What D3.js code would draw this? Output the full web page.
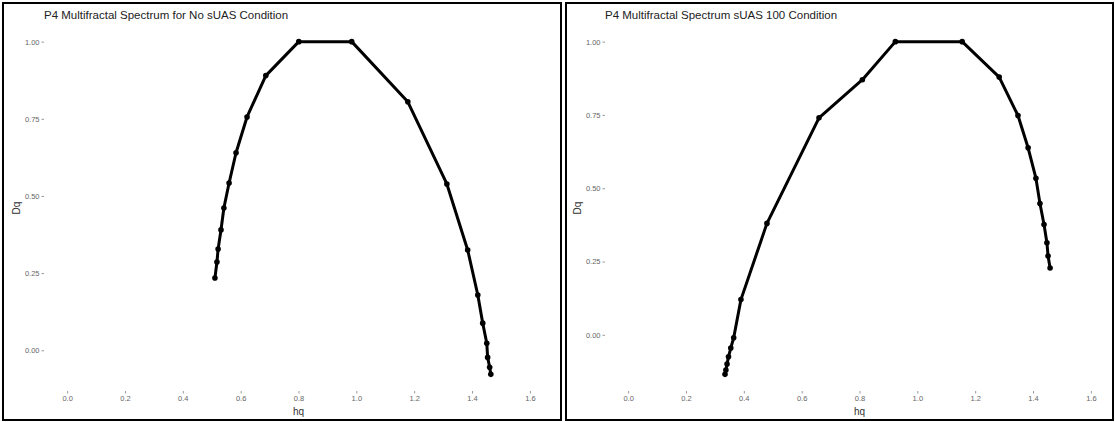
<!DOCTYPE html>
<html>
<head>
<meta charset="utf-8">
<script src="https://cdn.jsdelivr.net/npm/d3@7"></script>
<style>
  body { margin: 0; background: #fff; }
  svg text { font-family: "Liberation Sans", Arial, sans-serif; }
</style>
</head>
<body>
<div id="chart"></div>
<script>
// values

// left panel: No sUAS
const noSuasHq = [0.511, 0.518, 0.522, 0.532, 0.542, 0.560, 0.584, 0.622, 0.687, 0.801, 0.984,
                  1.178, 1.313, 1.385, 1.420, 1.437, 1.451, 1.454, 1.461, 1.465];
const noSuasDq = [0.234, 0.286, 0.328, 0.390, 0.461, 0.542, 0.640, 0.756, 0.890, 1.000, 1.000,
                  0.805, 0.539, 0.325, 0.179, 0.088, 0.023, -0.023, -0.055, -0.078];

// right panel: sUAS 100
const suas100Hq = [0.335, 0.338, 0.342, 0.347, 0.355, 0.365, 0.390, 0.480, 0.660, 0.810, 0.924,
                   1.155, 1.283, 1.348, 1.383, 1.410, 1.424, 1.438, 1.448, 1.452, 1.459];
const suas100Dq = [-0.135, -0.120, -0.100, -0.075, -0.045, -0.010, 0.120, 0.380, 0.740, 0.870, 1.000,
                   1.000, 0.879, 0.748, 0.638, 0.534, 0.448, 0.376, 0.314, 0.269, 0.228];

const xTicks = [0.0, 0.2, 0.4, 0.6, 0.8, 1.0, 1.2, 1.4, 1.6];
const yTicks = [0.00, 0.25, 0.50, 0.75, 1.00];

const panels = [
    { title: "P4 Multifractal Spectrum for No sUAS Condition", hq: noSuasHq, dq: noSuasDq,
      frame: [3, 3, 558, 417], plot: [44, 25, 553, 391] },
    { title: "P4 Multifractal Spectrum sUAS 100 Condition", hq: suas100Hq, dq: suas100Dq,
      frame: [566, 3, 547, 417], plot: [605, 25, 1114, 391] }
];

const width = 1115, height = 422;

const svg = d3.select("#chart").append("svg")
    .attr("width", width)
    .attr("height", height);

panels.forEach(p => {
    const g = svg.append("g");
    const [x0, y0, x1, y1] = p.plot;

    // ggplot-like 5% expansion
    const xSpan = 1.6 - 0;
    const x = d3.scaleLinear()
        .domain([0 - xSpan * 0.05, 1.6 + xSpan * 0.05])
        .range([x0, x1]);

    const yExt = d3.extent(p.dq);
    const ySpan = yExt[1] - yExt[0];
    const y = d3.scaleLinear()
        .domain([yExt[0] - ySpan * 0.05, yExt[1] + ySpan * 0.05])
        .range([y1, y0]);

    // x axis
    const xAxis = g.append("g")
        .attr("transform", `translate(0,${y1})`)
        .call(d3.axisBottom(x).tickValues(xTicks).tickFormat(d3.format(".1f")).tickSize(2.5).tickPadding(2));
    xAxis.select(".domain").remove();
    xAxis.selectAll("line").attr("stroke", "#999");
    xAxis.selectAll("text").attr("fill", "#666").style("font-size", "7.5px");

    // y axis
    const yAxis = g.append("g")
        .attr("transform", `translate(${x0},0)`)
        .call(d3.axisLeft(y).tickValues(yTicks).tickFormat(d3.format(".2f")).tickSize(2.5).tickPadding(2));
    yAxis.select(".domain").remove();
    yAxis.selectAll("line").attr("stroke", "#999");
    yAxis.selectAll("text").attr("fill", "#666").style("font-size", "7.5px");

    // axis titles
    g.append("text")
        .attr("x", (x0 + x1) / 2)
        .attr("y", y1 + 24)
        .attr("text-anchor", "middle")
        .style("font-size", "10px")
        .attr("fill", "#333")
        .text("hq");

    g.append("text")
        .attr("transform", `translate(${x0 - 24},${(y0 + y1) / 2}) rotate(-90)`)
        .attr("text-anchor", "middle")
        .style("font-size", "10px")
        .attr("fill", "#333")
        .text("Dq");

    // title
    g.append("text")
        .attr("x", x0)
        .attr("y", 19)
        .style("font-size", "11.5px")
        .attr("fill", "#222")
        .text(p.title);

    // spectrum line + points
    const pts = p.hq.map((h, i) => [h, p.dq[i]]);
    const line = d3.line().x(d => x(d[0])).y(d => y(d[1]));

    g.append("path")
        .datum(pts)
        .attr("d", line)
        .attr("fill", "none")
        .attr("stroke", "#000")
        .attr("stroke-width", 3)
        .attr("stroke-linejoin", "round");

    g.selectAll("circle")
        .data(pts)
        .enter().append("circle")
        .attr("cx", d => x(d[0]))
        .attr("cy", d => y(d[1]))
        .attr("r", 2.8)
        .attr("fill", "#000");

    // panel frame
    const [fx, fy, fw, fh] = p.frame;
    svg.append("rect")
        .attr("x", fx).attr("y", fy)
        .attr("width", fw).attr("height", fh)
        .attr("fill", "none")
        .attr("stroke", "#000")
        .attr("stroke-width", 2);
});
</script>
</body>
</html>
